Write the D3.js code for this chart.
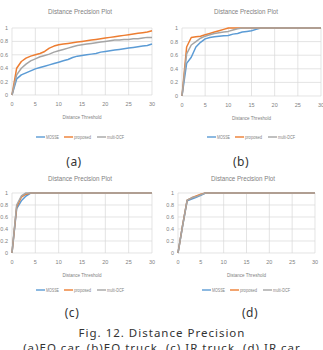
<!DOCTYPE html>
<html>
<head>
<meta charset="utf-8">
<script src="https://cdn.jsdelivr.net/npm/d3@7/dist/d3.min.js"></script>
<style>
	body { margin: 0; background: #fff; }
	svg { display: block; }
	.chart-text { font-family: "Liberation Sans", Arial, sans-serif; fill: #7f7f7f; }
	.caption { font-family: "Noto Sans", "DejaVu Sans", sans-serif; fill: #333; }
</style>
</head>
<body>
<svg id="fig" width="323" height="350"></svg>
<script>
const seriesNames = ['MOSSE', 'proposed', 'multi-DCF'];
const seriesColors = ['#5b9bd5', '#ed7d31', '#a5a5a5'];
const thresholds = [0, 1, 2, 3, 4, 5, 6, 7, 8, 9, 10, 11, 12, 13, 14, 15, 16, 17, 18, 19, 20, 21, 22, 23, 24, 25, 26, 27, 28, 29, 30];
const xTicks = [0, 5, 10, 15, 20, 25, 30];
const yTicks = [0, 0.2, 0.4, 0.6, 0.8, 1];
const yTickLabels = ['0', '0.2', '0.4', '0.6', '0.8', '1'];

// (a) EO car
const eoCarMosse    = [0, 0.24, 0.30, 0.33, 0.36, 0.39, 0.41, 0.43, 0.45, 0.47, 0.49, 0.51, 0.53, 0.56, 0.58, 0.59, 0.60, 0.61, 0.62, 0.64, 0.65, 0.66, 0.67, 0.68, 0.69, 0.70, 0.71, 0.72, 0.73, 0.74, 0.76];
const eoCarProposed = [0, 0.40, 0.50, 0.55, 0.58, 0.60, 0.62, 0.65, 0.70, 0.73, 0.75, 0.76, 0.77, 0.78, 0.79, 0.80, 0.81, 0.82, 0.83, 0.84, 0.85, 0.86, 0.87, 0.88, 0.89, 0.90, 0.91, 0.92, 0.93, 0.94, 0.96];
const eoCarMultiDcf = [0, 0.30, 0.40, 0.46, 0.51, 0.54, 0.57, 0.59, 0.61, 0.64, 0.66, 0.68, 0.70, 0.72, 0.74, 0.75, 0.76, 0.77, 0.78, 0.79, 0.80, 0.81, 0.82, 0.82, 0.83, 0.83, 0.84, 0.84, 0.85, 0.86, 0.86];

// (b) EO truck
const eoTruckMosse    = [0, 0.48, 0.57, 0.72, 0.79, 0.84, 0.86, 0.87, 0.88, 0.885, 0.89, 0.91, 0.92, 0.94, 0.95, 0.96, 0.98, 1, 1, 1, 1, 1, 1, 1, 1, 1, 1, 1, 1, 1, 1];
const eoTruckProposed = [0, 0.72, 0.86, 0.87, 0.88, 0.90, 0.92, 0.94, 0.96, 0.98, 1, 1, 1, 1, 1, 1, 1, 1, 1, 1, 1, 1, 1, 1, 1, 1, 1, 1, 1, 1, 1];
const eoTruckMultiDcf = [0, 0.62, 0.75, 0.80, 0.85, 0.88, 0.90, 0.92, 0.93, 0.94, 0.95, 0.97, 0.99, 1, 1, 1, 1, 1, 1, 1, 1, 1, 1, 1, 1, 1, 1, 1, 1, 1, 1];

// (c) IR truck
const irTruckMosse    = [0, 0.74, 0.87, 0.95, 1, 1, 1, 1, 1, 1, 1, 1, 1, 1, 1, 1, 1, 1, 1, 1, 1, 1, 1, 1, 1, 1, 1, 1, 1, 1, 1];
const irTruckProposed = [0, 0.77, 0.93, 0.98, 1, 1, 1, 1, 1, 1, 1, 1, 1, 1, 1, 1, 1, 1, 1, 1, 1, 1, 1, 1, 1, 1, 1, 1, 1, 1, 1];
const irTruckMultiDcf = [0, 0.80, 0.95, 1, 1, 1, 1, 1, 1, 1, 1, 1, 1, 1, 1, 1, 1, 1, 1, 1, 1, 1, 1, 1, 1, 1, 1, 1, 1, 1, 1];

// (d) IR car
const irCarMosse    = [0, 0.45, 0.87, 0.90, 0.93, 0.96, 1, 1, 1, 1, 1, 1, 1, 1, 1, 1, 1, 1, 1, 1, 1, 1, 1, 1, 1, 1, 1, 1, 1, 1, 1];
const irCarProposed = [0, 0.46, 0.88, 0.92, 0.95, 0.98, 1, 1, 1, 1, 1, 1, 1, 1, 1, 1, 1, 1, 1, 1, 1, 1, 1, 1, 1, 1, 1, 1, 1, 1, 1];
const irCarMultiDcf = [0, 0.45, 0.88, 0.92, 0.94, 0.97, 1, 1, 1, 1, 1, 1, 1, 1, 1, 1, 1, 1, 1, 1, 1, 1, 1, 1, 1, 1, 1, 1, 1, 1, 1];

const panelLabels = ['(a)', '(b)', '(c)', '(d)'];
const figCaption = 'Fig. 12. Distance Precision';
const figSubCaption = '(a)EO car, (b)EO truck, (c) IR truck, (d) IR car';

var svg = d3.select('#fig');

// reference text is narrow, squeeze to its widths
var legendWidths = [13, 17, 17];
var legendOffsets = [0, 28, 61];

function drawPanel(p, values, label) {
	var x = d3.scaleLinear().domain([0, 30]).range([p.left, p.right]);
	var y = d3.scaleLinear().domain([0, 1]).range([p.bottom, p.top]);
	var g = svg.append('g');

	// title
	g.append('text').attr('class', 'chart-text')
		.attr('x', p.titleX).attr('y', p.titleY)
		.attr('text-anchor', 'middle').style('font-size', '8px')
		.attr('textLength', 64).attr('lengthAdjust', 'spacingAndGlyphs')
		.text('Distance Precision Plot');

	// grid
	g.selectAll('line.hgrid').data(yTicks).enter().append('line')
		.attr('x1', p.left).attr('x2', p.right)
		.attr('y1', d => y(d)).attr('y2', d => y(d))
		.attr('stroke', '#d9d9d9').attr('stroke-width', 0.7);
	g.selectAll('line.vgrid').data(xTicks).enter().append('line')
		.attr('x1', d => x(d)).attr('x2', d => x(d))
		.attr('y1', p.top).attr('y2', p.bottom)
		.attr('stroke', '#d9d9d9').attr('stroke-width', 0.7);

	// tick labels
	g.selectAll('text.ytick').data(yTicks).enter().append('text')
		.attr('class', 'chart-text')
		.attr('x', p.left - 4).attr('y', d => y(d) + 2)
		.attr('text-anchor', 'end').style('font-size', '5.5px')
		.text((d, i) => yTickLabels[i]);
	g.selectAll('text.xtick').data(xTicks).enter().append('text')
		.attr('class', 'chart-text')
		.attr('x', d => x(d)).attr('y', p.bottom + 11)
		.attr('text-anchor', 'middle').style('font-size', '5.5px')
		.text(d => d);

	g.append('text').attr('class', 'chart-text')
		.attr('x', (p.left + p.right) / 2).attr('y', p.bottom + 24)
		.attr('text-anchor', 'middle').style('font-size', '6px')
		.attr('textLength', 39).attr('lengthAdjust', 'spacingAndGlyphs')
		.text('Distance Threshold');

	// lines
	var line = d3.line().x((d, i) => x(thresholds[i])).y(d => y(d));
	values.forEach((v, i) => {
		g.append('path').datum(v)
			.attr('d', line)
			.attr('fill', 'none')
			.attr('stroke', seriesColors[i])
			.attr('stroke-width', 1.5)
			.attr('stroke-linejoin', 'round');
	});

	// legend
	seriesNames.forEach((name, i) => {
		var lx = p.legendX + legendOffsets[i];
		g.append('line')
			.attr('x1', lx).attr('x2', lx + 9)
			.attr('y1', p.legendY).attr('y2', p.legendY)
			.attr('stroke', seriesColors[i]).attr('stroke-width', 1.4);
		g.append('text').attr('class', 'chart-text')
			.attr('x', lx + 10).attr('y', p.legendY + 2)
			.style('font-size', '5.5px')
			.attr('textLength', legendWidths[i]).attr('lengthAdjust', 'spacingAndGlyphs')
			.text(name);
	});

	// caption
	svg.append('text').attr('class', 'caption')
		.attr('x', p.captionX).attr('y', p.captionY)
		.attr('text-anchor', 'middle').style('font-size', '12px')
		.style('letter-spacing', '0.5px')
		.text(label);
}

var panels = [
	{left: 12, right: 152, top: 28, bottom: 95, titleX: 80, titleY: 14, legendX: 36, legendY: 137, captionX: 74, captionY: 166},
	{left: 182, right: 321, top: 28, bottom: 96, titleX: 246, titleY: 14, legendX: 207, legendY: 137, captionX: 241, captionY: 166},
	{left: 12, right: 152, top: 193, bottom: 253, titleX: 80, titleY: 181, legendX: 36, legendY: 290, captionX: 72, captionY: 317},
	{left: 178, right: 315, top: 193, bottom: 253, titleX: 243, titleY: 181, legendX: 202, legendY: 290, captionX: 250, captionY: 317}
];

drawPanel(panels[0], [eoCarMosse, eoCarProposed, eoCarMultiDcf], panelLabels[0]);
drawPanel(panels[1], [eoTruckMosse, eoTruckProposed, eoTruckMultiDcf], panelLabels[1]);
drawPanel(panels[2], [irTruckMosse, irTruckProposed, irTruckMultiDcf], panelLabels[2]);
drawPanel(panels[3], [irCarMosse, irCarProposed, irCarMultiDcf], panelLabels[3]);

svg.append('text').attr('class', 'caption')
	.attr('x', 162).attr('y', 337)
	.attr('text-anchor', 'middle').style('font-size', '11.5px')
	.style('letter-spacing', '1px')
	.text(figCaption);
// the reference crops this line at the bottom edge
svg.append('text').attr('class', 'caption')
	.attr('x', 162).attr('y', 352)
	.attr('text-anchor', 'middle').style('font-size', '11.5px')
	.style('letter-spacing', '1px')
	.text(figSubCaption);
</script>
</body>
</html>
